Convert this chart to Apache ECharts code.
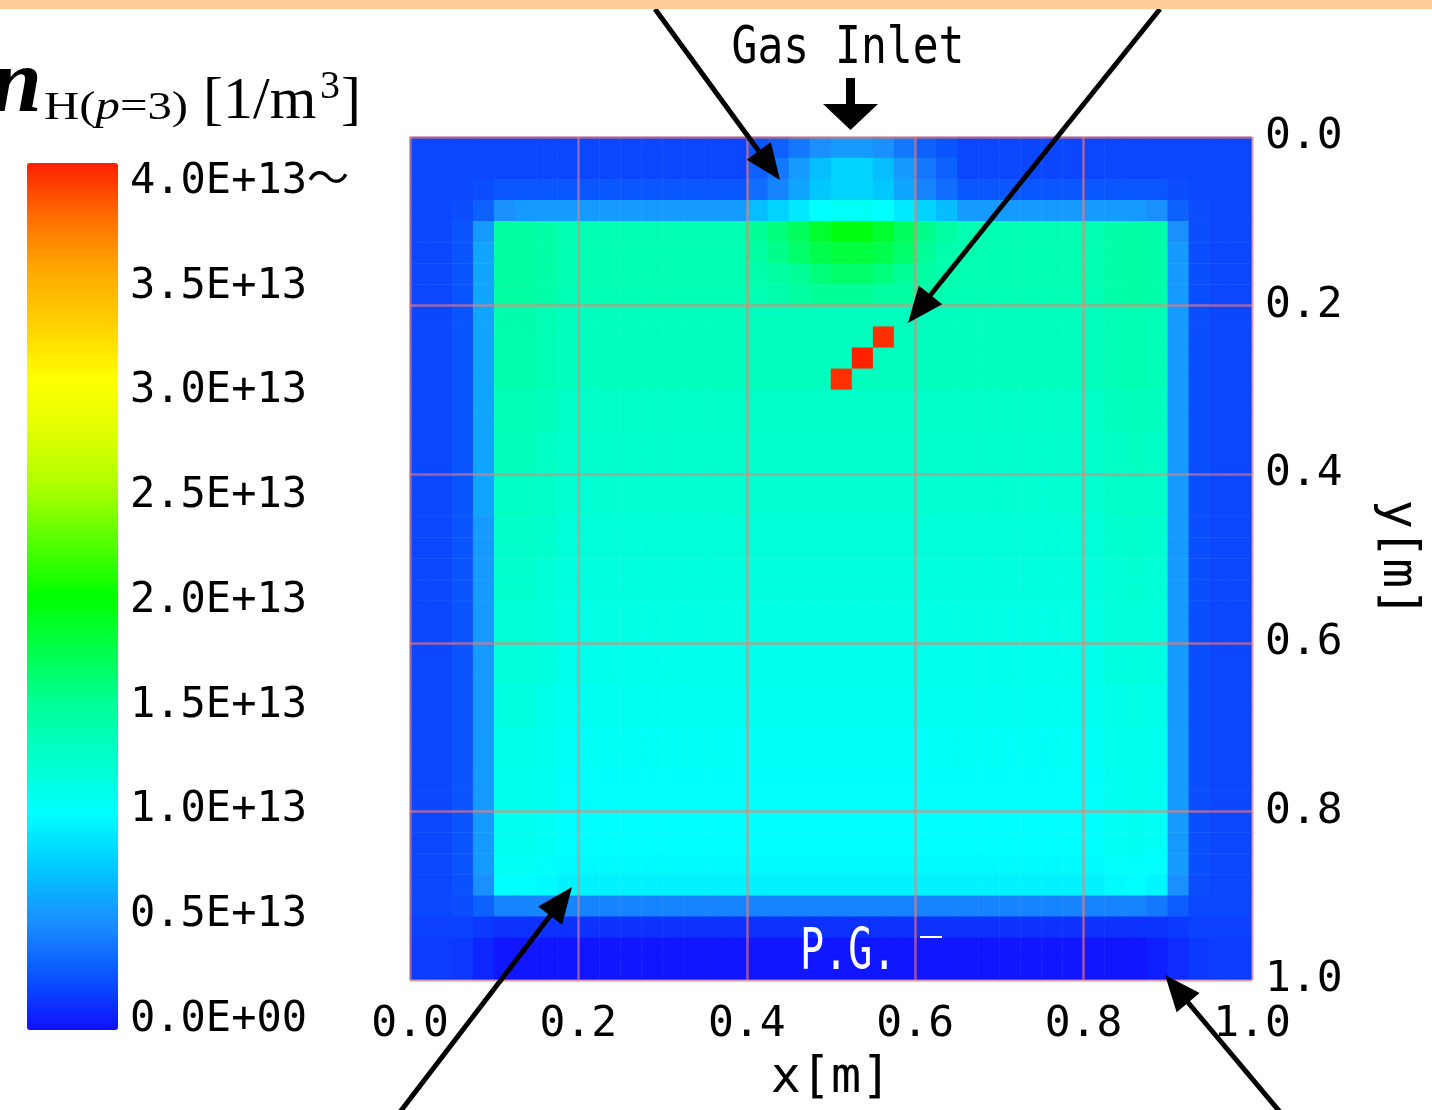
<!DOCTYPE html>
<html><head><meta charset="utf-8">
<script src="https://cdn.jsdelivr.net/npm/echarts@6/dist/echarts.min.js"></script>
<style>html,body{margin:0;padding:0;background:#fff}#main{width:1432px;height:1110px}</style>
</head><body><div id="main"></div>
<script>
// ---- axis ticks / labels ----
const xTickLabels = ['0.0', '0.2', '0.4', '0.6', '0.8', '1.0'];
const yTickLabels = ['0.0', '0.2', '0.4', '0.6', '0.8', '1.0'];
const colorbarTickLabels = ['0.0E+00', '0.5E+13', '1.0E+13', '1.5E+13', '2.0E+13', '2.5E+13', '3.0E+13', '3.5E+13', '4.0E+13〜'];
// colour scale stops for 0 .. 40 (x1e12 m^-3), 2.5 apart
const colorScale = ['#1010ff', '#0a55ff', '#1a90ff', '#00c8ff', '#00ffff', '#00ffcc', '#00ff99', '#00ff4c', '#00ff00',
  '#55ff00', '#aaff00', '#dfff00', '#ffff00', '#ffd200', '#ffaa00', '#ff6e00', '#ff2000'];
// cell centres [m]
const cellX = [0.0125,0.0375,0.0625,0.0875,0.1125,0.1375,0.1625,0.1875,0.2125,0.2375,0.2625,0.2875,0.3125,0.3375,0.3625,0.3875,0.4125,0.4375,0.4625,0.4875,0.5125,0.5375,0.5625,0.5875,0.6125,0.6375,0.6625,0.6875,0.7125,0.7375,0.7625,0.7875,0.8125,0.8375,0.8625,0.8875,0.9125,0.9375,0.9625,0.9875];
const cellY = cellX.slice();
// n_H(p=3), in units of 1e12 m^-3; rows top (y=0) to bottom (y=1)
const density = [
[2,2,2,2,2,2,2,2, 2,2,2,2,2,2,2,2, 2.5,3,4,5,5.5,5.5,5,4,3,2.5, 2,2,2,2,2,2,2, 2,2,2,2,2,2,2],
[2,2,2,2,2,2,2,2, 2,2,2,2,2,2,2,2, 3,4,5.5,7,8,8,7,5.5,4,3, 2,2,2,2,2,2,2, 2,2,2,2,2,2,2],
[2,2,2,2.2, 2.6,2.6,2.6,2.6,2.6,2.6,2.6,2.6,2.6,2.6,2.6,2.6, 3.5,4.5,6,7.5,8,8,7.5,6,4.5,3.5, 2.6,2.6,2.6,2.6,2.6,2.6,2.6,2.6,2.6,2.6, 2.2,2,2,2],
[2,2,2.2,3,5, 5.5,5.5,5.5,5.5,5.5,5.5,5.5,5.5,5.5,5.5,5.5, 7,8,9,10,10.5,10.5,10,9,8,7, 5.5,5.5,5.5,5.5,5.5,5.5,5.5,5.5,5.5, 5,3,2.2,2,2],
[2,2,2.5,5.5,14.6,14.6,14.3, 13.8,13.8,13.8,13.8,13.8,13.8,13.8,13.8,13.8, 15,16,17,18.5,19.5,19.5,18.5,17,15.5,14.5, 13.8,13.8,13.8,13.8,13.8,13.8,13.8, 14.3,14.4,14.2,5,2.3,2,2],
[2,2,2.5,6,14.6,14.6,14.3, 13.8,13.8,13.8,13.8,13.8,13.8,13.8,13.8,13.8, 14.5,15.5,16.5,17.5,18,18,17.5,16.5,15,14, 13.8,13.8,13.8,13.8,13.8,13.8,13.8, 14.3,14.4,14.2,5.5,2.3,2,2],
[2,2,2.5,6,14.6,14.6,14.3, 13.8,13.8,13.8,13.8,13.8,13.8,13.8,13.8,13.8, 14,14.5,15,16,16.5,16.5,16,15,14.5,14, 13.8,13.8,13.8,13.8,13.8,13.8,13.8, 14.3,14.4,14.2,5.5,2.3,2,2],
[2,2,2.5,6,14.5,14.5,14.2, 13.7,13.7,13.7,13.7,13.7,13.7,13.7,13.7,13.7, 13.8,14,14.5,15,15,15,14.5,14.5,14,13.8, 13.7,13.7,13.7,13.7,13.7,13.7,13.7, 14.2,14.3,14.1,5.5,2.3,2,2],
[2,2,2.5,6,14,14,13.7, 13.2,13.2,13.2,13.2,13.2,13.2,13.2,13.2,13.2,13.2,13.2,13.2,13.2, 13.2,13.2,13.2,13.2,13.2,13.2,13.2,13.2,13.2,13.2,13.2,13.2,13.2, 13.7,13.8,13.6,5.5,2.3,2,2],
[2,2,2.5,6,14,14,13.7, 13.2,13.2,13.2,13.2,13.2,13.2,13.2,13.2,13.2,13.2,13.2,13.2,13.2, 13.2,13.2,39.5,13.2,13.2,13.2,13.2,13.2,13.2,13.2,13.2,13.2,13.2, 13.7,13.8,13.6,5.5,2.3,2,2],
[2,2,2.5,6,14,14,13.7, 13.2,13.2,13.2,13.2,13.2,13.2,13.2,13.2,13.2,13.2,13.2,13.2,13.2, 13.2,40,13.2,13.2,13.2,13.2,13.2,13.2,13.2,13.2,13.2,13.2,13.2, 13.7,13.8,13.6,5.5,2.3,2,2],
[2,2,2.5,6,14,14,13.7, 13.2,13.2,13.2,13.2,13.2,13.2,13.2,13.2,13.2,13.2,13.2,13.2,13.2, 39.5,13.2,13.2,13.2,13.2,13.2,13.2,13.2,13.2,13.2,13.2,13.2,13.2, 13.7,13.8,13.6,5.5,2.3,2,2],
[2,2,2.5,6,13.6,13.6,13.3, 12.8,12.8,12.8,12.8,12.8,12.8,12.8,12.8,12.8,12.8,12.8,12.8,12.8, 12.8,12.8,12.8,12.8,12.8,12.8,12.8,12.8,12.8,12.8,12.8,12.8,12.8, 13.3,13.4,13.2,5.5,2.3,2,2],
[2,2,2.5,6,13.6,13.6,13.3, 12.8,12.8,12.8,12.8,12.8,12.8,12.8,12.8,12.8,12.8,12.8,12.8,12.8, 12.8,12.8,12.8,12.8,12.8,12.8,12.8,12.8,12.8,12.8,12.8,12.8,12.8, 13.3,13.4,13.2,5.5,2.3,2,2],
[2,2,2.5,6,13.3,13.3,13, 12.5,12.5,12.5,12.5,12.5,12.5,12.5,12.5,12.5,12.5,12.5,12.5,12.5, 12.5,12.5,12.5,12.5,12.5,12.5,12.5,12.5,12.5,12.5,12.5,12.5,12.5, 13,13.1,12.9,5.5,2.3,2,2],
[2,2,2.5,6,13.3,13.3,13, 12.5,12.5,12.5,12.5,12.5,12.5,12.5,12.5,12.5,12.5,12.5,12.5,12.5, 12.5,12.5,12.5,12.5,12.5,12.5,12.5,12.5,12.5,12.5,12.5,12.5,12.5, 13,13.1,12.9,5.5,2.3,2,2],
[2,2,2.5,6,13,13,12.7, 12.2,12.2,12.2,12.2,12.2,12.2,12.2,12.2,12.2,12.2,12.2,12.2,12.2, 12.2,12.2,12.2,12.2,12.2,12.2,12.2,12.2,12.2,12.2,12.2,12.2,12.2, 12.7,12.8,12.6,5.5,2.3,2,2],
[2,2,2.5,6,13,13,12.7, 12.2,12.2,12.2,12.2,12.2,12.2,12.2,12.2,12.2,12.2,12.2,12.2,12.2, 12.2,12.2,12.2,12.2,12.2,12.2,12.2,12.2,12.2,12.2,12.2,12.2,12.2, 12.7,12.8,12.6,5.5,2.3,2,2],
[2,2,2.5,5.5,12.7,12.7,12.4, 11.9,11.9,11.9,11.9,11.9,11.9,11.9,11.9,11.9,11.9,11.9,11.9,11.9, 11.9,11.9,11.9,11.9,11.9,11.9,11.9,11.9,11.9,11.9,11.9,11.9,11.9, 12.4,12.5,12.3,5.5,2.3,2,2],
[2,2,2.5,5.5,12.7,12.7,12.4, 11.9,11.9,11.9,11.9,11.9,11.9,11.9,11.9,11.9,11.9,11.9,11.9,11.9, 11.9,11.9,11.9,11.9,11.9,11.9,11.9,11.9,11.9,11.9,11.9,11.9,11.9, 12.4,12.5,12.3,5.5,2.3,2,2],
[2,2,2.5,5.5,12.4,12.4,12.1, 11.6,11.6,11.6,11.6,11.6,11.6,11.6,11.6,11.6,11.6,11.6,11.6,11.6, 11.6,11.6,11.6,11.6,11.6,11.6,11.6,11.6,11.6,11.6,11.6,11.6,11.6, 12.1,12.2,12,5.5,2.3,2,2],
[2,2,2.5,5.5,12.4,12.4,12.1, 11.6,11.6,11.6,11.6,11.6,11.6,11.6,11.6,11.6,11.6,11.6,11.6,11.6, 11.6,11.6,11.6,11.6,11.6,11.6,11.6,11.6,11.6,11.6,11.6,11.6,11.6, 12.1,12.2,12,5.5,2.3,2,2],
[2,2,2.5,5.5,12.1,12.1,11.8, 11.3,11.3,11.3,11.3,11.3,11.3,11.3,11.3,11.3,11.3,11.3,11.3,11.3, 11.3,11.3,11.3,11.3,11.3,11.3,11.3,11.3,11.3,11.3,11.3,11.3,11.3, 11.8,11.9,11.7,5.5,2.3,2,2],
[2,2,2.5,5.5,12.1,12.1,11.8, 11.3,11.3,11.3,11.3,11.3,11.3,11.3,11.3,11.3,11.3,11.3,11.3,11.3, 11.3,11.3,11.3,11.3,11.3,11.3,11.3,11.3,11.3,11.3,11.3,11.3,11.3, 11.8,11.9,11.7,5.5,2.3,2,2],
[2,2,2.5,5.5,11.8,11.8,11.5, 11,11,11,11,11,11,11,11,11,11,11,11,11, 11,11,11,11,11,11,11,11,11,11,11,11,11, 11.5,11.6,11.4,5.5,2.3,2,2],
[2,2,2.5,5.5,11.8,11.8,11.5, 11,11,11,11,11,11,11,11,11,11,11,11,11, 11,11,11,11,11,11,11,11,11,11,11,11,11, 11.5,11.6,11.4,5.5,2.3,2,2],
[2,2,2.5,5.5,11.5,11.5,11.2, 10.7,10.7,10.7,10.7,10.7,10.7,10.7,10.7,10.7,10.7,10.7,10.7,10.7, 10.7,10.7,10.7,10.7,10.7,10.7,10.7,10.7,10.7,10.7,10.7,10.7,10.7, 11.2,11.3,11.1,5.5,2.3,2,2],
[2,2,2.5,5.5,11.5,11.5,11.2, 10.7,10.7,10.7,10.7,10.7,10.7,10.7,10.7,10.7,10.7,10.7,10.7,10.7, 10.7,10.7,10.7,10.7,10.7,10.7,10.7,10.7,10.7,10.7,10.7,10.7,10.7, 11.2,11.3,11.1,5.5,2.3,2,2],
[2,2,2.5,5.5,11.2,11.2,10.9, 10.4,10.4,10.4,10.4,10.4,10.4,10.4,10.4,10.4,10.4,10.4,10.4,10.4, 10.4,10.4,10.4,10.4,10.4,10.4,10.4,10.4,10.4,10.4,10.4,10.4,10.4, 10.9,11,10.8,5.5,2.3,2,2],
[2,2,2.5,5.5,11.2,11.2,10.9, 10.4,10.4,10.4,10.4,10.4,10.4,10.4,10.4,10.4,10.4,10.4,10.4,10.4, 10.4,10.4,10.4,10.4,10.4,10.4,10.4,10.4,10.4,10.4,10.4,10.4,10.4, 10.9,11,10.8,5.5,2.3,2,2],
[2,2,2.5,5.5,11,11,10.7, 10.2,10.2,10.2,10.2,10.2,10.2,10.2,10.2,10.2,10.2,10.2,10.2,10.2, 10.2,10.2,10.2,10.2,10.2,10.2,10.2,10.2,10.2,10.2,10.2,10.2,10.2, 10.7,10.8,10.6,5.5,2.3,2,2],
[2,2,2.5,5.5,11,11,10.7, 10.2,10.2,10.2,10.2,10.2,10.2,10.2,10.2,10.2,10.2,10.2,10.2,10.2, 10.2,10.2,10.2,10.2,10.2,10.2,10.2,10.2,10.2,10.2,10.2,10.2,10.2, 10.7,10.8,10.6,5.5,2.3,2,2],
[2,2,2.5,5.5,10.8,10.8,10.5, 10,10,10,10,10,10,10,10,10,10,10,10,10, 10,10,10,10,10,10,10,10,10,10,10,10,10, 10.5,10.6,10.4,5.5,2.3,2,2],
[2,2,2.5,5.5,10.8,10.8,10.5, 10,10,10,10,10,10,10,10,10,10,10,10,10, 10,10,10,10,10,10,10,10,10,10,10,10,10, 10.5,10.6,10.4,5.5,2.3,2,2],
[2,2,2.5,5.5,10.5,10.5,10.2, 9.8,9.8,9.8,9.8,9.8,9.8,9.8,9.8,9.8,9.8,9.8,9.8,9.8, 9.8,9.8,9.8,9.8,9.8,9.8,9.8,9.8,9.8,9.8,9.8,9.8,9.8, 10.2,10.3,10.1,5.5,2.3,2,2],
[2,2,2.4,5,10,10,9.8, 9.4,9.4,9.4,9.4,9.4,9.4,9.4,9.4,9.4,9.4,9.4,9.4,9.4, 9.4,9.4,9.4,9.4,9.4,9.4,9.4,9.4,9.4,9.4,9.4,9.4,9.4, 9.8,9.9,9.6,5,2.2,2,2],
[2,2,2.2,3, 4.5,4.5,4.5,4.5,4.5,4.5,4.5,4.5,4.5,4.5,4.5,4.5,4.5,4.5,4.5,4.5, 4.5,4.5,4.5,4.5,4.5,4.5,4.5,4.5,4.5,4.5,4.5,4.5,4.5,4.5,4.5, 4,2.8,2,2,2],
[1.8,1.8,1.8,1.5, 1.2,1.2,1.2,1.2,1.2,1.2,1.2,1.2,1.2,1.2,1.2,1.2,1.2,1.2,1.2,1.2, 1.2,1.2,1.2,1.2,1.2,1.2,1.2,1.2,1.2,1.2,1.2,1.2,1.2,1.2,1.2, 1.3,1.5,1.8,1.8,1.8],
[1.6,1.6,1.5,0.8, 0.2,0.2,0.2,0.2,0.2,0.2,0.2,0.2,0.2,0.2,0.2,0.2,0.2,0.2,0.2,0.2, 0.2,0.2,0.2,0.2,0.2,0.2,0.2,0.2,0.2,0.2,0.2,0.2,0.2,0.2,0.2, 0.5,1,1.5,1.6,1.6],
[1.6,1.6,1.5,0.8, 0.2,0.2,0.2,0.2,0.2,0.2,0.2,0.2,0.2,0.2,0.2,0.2,0.2,0.2,0.2,0.2, 0.2,0.2,0.2,0.2,0.2,0.2,0.2,0.2,0.2,0.2,0.2,0.2,0.2,0.2,0.2, 0.5,1,1.5,1.6,1.6]
];

const heatData = [];
density.forEach((row, j) => row.forEach((v, i) => heatData.push([i, j, v])));

const MONO = "'DejaVu Sans Mono', 'Noto Sans CJK JP', monospace";
const SERIF = "'Liberation Serif', 'DejaVu Serif', serif";
const gridLine = { show: true, lineStyle: { color: 'rgba(250,120,110,0.6)', width: 2.5 } };

function arrow(tail, tip) {
  const dx = tip[0] - tail[0], dy = tip[1] - tail[1];
  const L = Math.hypot(dx, dy), ux = dx / L, uy = dy / L;
  const hl = 36, hw = 15;
  const bx = tip[0] - ux * hl, by = tip[1] - uy * hl;
  return [
    { type: 'polyline', z: 100, shape: { points: [tail, [bx + ux * 4, by + uy * 4]] }, style: { stroke: '#000', lineWidth: 5, fill: null } },
    { type: 'polygon', z: 100, shape: { points: [tip, [bx - uy * hw, by + ux * hw], [bx + uy * hw, by - ux * hw]] }, style: { fill: '#000' } }
  ];
}
function txt(text, x, y, size, family, opts) {
  return Object.assign({
    type: 'text', x: x, y: y, z: 100,
    style: Object.assign({ text: text, fontSize: size, fontFamily: family, fill: '#000',
      align: 'left', textAlign: 'left', verticalAlign: 'middle', textVerticalAlign: 'middle' }, (opts && opts.style) || {})
  }, (opts && opts.el) || {});
}

const chart = echarts.init(document.getElementById('main'), null, { renderer: 'canvas' });
chart.setOption({
  animation: false,
  backgroundColor: '#ffffff',
  grid: [
    { left: 410, top: 137, width: 842, height: 843 },
    { left: 410, top: 137, width: 842, height: 843 },
    { left: 27, top: 182, width: 91, height: 838 }
  ],
  xAxis: [
    { gridIndex: 0, type: 'category', data: cellX, show: false },
    { gridIndex: 1, type: 'value', min: 0, max: 1, interval: 0.2, z: 10, position: 'bottom',
      axisLine: { show: false }, axisTick: { show: false }, splitLine: gridLine,
      axisLabel: { margin: 23, color: '#000', fontSize: 43, fontFamily: MONO, formatter: (v, i) => xTickLabels[i] },
      name: 'x[m]', nameLocation: 'middle', nameGap: 74, nameTextStyle: { fontSize: 50, fontFamily: MONO, color: '#000' } },
    { gridIndex: 2, type: 'value', show: false, min: 0, max: 1 }
  ],
  yAxis: [
    { gridIndex: 0, type: 'category', data: cellY, inverse: true, show: false },
    { gridIndex: 1, type: 'value', min: 0, max: 1, interval: 0.2, inverse: true, position: 'right', z: 10,
      axisLine: { show: false }, axisTick: { show: false }, splitLine: gridLine,
      axisLabel: { margin: 13, color: '#000', fontSize: 43, fontFamily: MONO, padding: [8, 0, 0, 0], formatter: (v, i) => yTickLabels[i] },
      name: 'y[m]', nameLocation: 'middle', nameRotate: -90, nameGap: 120, nameTextStyle: { fontSize: 49, fontFamily: MONO, color: '#000' } },
    { gridIndex: 2, type: 'value', min: 0, max: 40, interval: 5, position: 'right',
      axisLine: { show: false }, axisTick: { show: false }, splitLine: { show: false },
      axisLabel: { margin: 12, color: '#000', fontSize: 42, fontFamily: MONO, padding: [8, 0, 0, 0], formatter: (v, i) => colorbarTickLabels[i] } }
  ],
  visualMap: {
    type: 'continuous', seriesIndex: 0, min: 0, max: 40, calculable: false, hoverLink: false,
    orient: 'vertical', left: 27, top: 163, itemWidth: 91, itemHeight: 867, padding: 0,
    inRange: { color: colorScale }, textStyle: { color: 'transparent' }
  },
  series: [{
    type: 'heatmap', xAxisIndex: 0, yAxisIndex: 0, data: heatData, silent: true, progressive: 0,
    itemStyle: { borderWidth: 0 }, emphasis: { disabled: true }
  }],
  graphic: [
    { type: 'rect', z: 101, shape: { x: 0, y: 0, width: 1432, height: 9 }, style: { fill: '#ffcc99' } },
    txt('n', 42, 87, 92, SERIF, { style: { fontStyle: 'italic', fontWeight: 'bold', align: 'right', textAlign: 'right' } }),
    { type: 'text', x: 44, y: 108, z: 100, scaleX: 1.22,
      style: { text: '{r|H(}{i|p}{r|=3)}', verticalAlign: 'middle', textVerticalAlign: 'middle', fill: '#000',
        rich: { r: { fontSize: 40, fontFamily: SERIF }, i: { fontSize: 40, fontFamily: SERIF, fontStyle: 'italic' } } } },
    txt('[1/m', 203, 102, 60, SERIF),
    txt('3', 320, 87, 40, SERIF),
    txt(']', 341, 102, 60, SERIF),
    txt('Gas Inlet', 848, 50, 43, MONO, { style: { align: 'center', textAlign: 'center' }, el: { scaleY: 1.2 } }),
    { type: 'rect', z: 100, shape: { x: 846, y: 78, width: 9, height: 30 }, style: { fill: '#000' } },
    { type: 'polygon', z: 100, shape: { points: [[823, 104], [878, 104], [850.5, 130]] }, style: { fill: '#000' } },
    txt('P.G.', 800, 954, 40, MONO, { style: { fill: '#ffffff' }, el: { scaleY: 1.4 } }),
    { type: 'line', z: 100, shape: { x1: 920, y1: 937, x2: 942, y2: 937 }, style: { stroke: '#ffffff', lineWidth: 2 } }
  ].concat(arrow([655, 9], [780, 180]), arrow([1160, 9], [908, 323]), arrow([400, 1112], [572, 887]), arrow([1280, 1112], [1165, 975]))
});
</script>
</body></html>
